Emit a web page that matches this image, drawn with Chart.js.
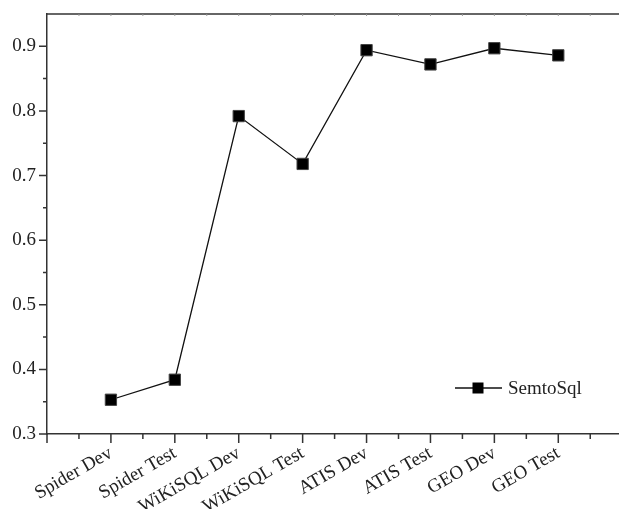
<!DOCTYPE html>
<html>
<head>
<meta charset="utf-8">
<script src="https://cdn.jsdelivr.net/npm/chart.js@4.4.0/dist/chart.umd.min.js"></script>
<style>
html,body{margin:0;padding:0;background:#fff;}
#wrap{width:619px;height:509px;}
</style>
</head>
<body>
<div id="wrap"><canvas id="c" width="619" height="509"></canvas></div>
<script>
const categories = ['Spider Dev','Spider Test','WiKiSQL Dev','WiKiSQL Test','ATIS Dev','ATIS Test','GEO Dev','GEO Test'];
const seriesName = 'SemtoSql';
const semtoSql = [0.353, 0.384, 0.792, 0.718, 0.894, 0.872, 0.897, 0.886];
const yTicks = [0.3, 0.4, 0.5, 0.6, 0.7, 0.8, 0.9];
const yMinorTicks = [0.35, 0.45, 0.55, 0.65, 0.75, 0.85];

const FONT = 'Liberation Serif';
const AXIS = '#333';

const points = semtoSql.map((v, i) => ({x: i + 1, y: v}));

const decor = {
  id: 'decor',
  afterDraw(chart) {
    const ctx = chart.ctx;
    const xs = chart.scales.x, ys = chart.scales.y;
    const a = chart.chartArea;
    ctx.save();
    ctx.strokeStyle = AXIS;
    ctx.lineWidth = 1.5;
    ctx.beginPath();
    ctx.moveTo(a.left, a.top);
    ctx.lineTo(a.right, a.top);
    ctx.stroke();
    ctx.beginPath();
    for (let v = 0; v <= 9; v += 0.5) {
      const px = xs.getPixelForValue(v);
      if (px > a.right + 1) continue;
      const len = Number.isInteger(v) ? 9 : 5;
      ctx.moveTo(px, a.bottom);
      ctx.lineTo(px, a.bottom + len);
    }
    yTicks.forEach(v => {
      const py = ys.getPixelForValue(v);
      ctx.moveTo(a.left, py);
      ctx.lineTo(a.left - 8, py);
    });
    yMinorTicks.forEach(v => {
      const py = ys.getPixelForValue(v);
      ctx.moveTo(a.left, py);
      ctx.lineTo(a.left - 4, py);
    });
    ctx.stroke();
    ctx.strokeStyle = '#999';
    ctx.lineWidth = 1;
    ctx.beginPath();
    for (let v = 0.5; v <= 9; v += 0.5) {
      const px = xs.getPixelForValue(v);
      if (px > a.right - 1) continue;
      ctx.moveTo(px, a.top);
      ctx.lineTo(px, a.top + 2);
    }
    ctx.stroke();
    const ly = 388, lx0 = 455, lx1 = 502;
    ctx.strokeStyle = '#111';
    ctx.lineWidth = 1.3;
    ctx.beginPath();
    ctx.moveTo(lx0, ly);
    ctx.lineTo(lx1, ly);
    ctx.stroke();
    ctx.fillStyle = '#000';
    ctx.fillRect(478 - 5.5, ly - 5.5, 11, 11);
    ctx.fillStyle = '#222';
    ctx.font = '19px "' + FONT + '"';
    ctx.textBaseline = 'middle';
    ctx.textAlign = 'left';
    ctx.fillText(seriesName, 508, ly + 1);
    ctx.restore();
  }
};

new Chart(document.getElementById('c'), {
  type: 'line',
  data: {
    datasets: [{
      label: seriesName,
      data: points,
      borderColor: '#111',
      borderWidth: 1.3,
      pointStyle: 'rect',
      pointRadius: 8,
      pointHoverRadius: 8,
      pointBackgroundColor: '#000',
      pointBorderColor: '#444',
      pointBorderWidth: 1,
      tension: 0,
      clip: false
    }]
  },
  options: {
    responsive: false,
    animation: false,
    events: [],
    layout: {autoPadding: false, padding: {top: 14, right: 0, left: 0, bottom: 0}},
    plugins: {legend: {display: false}, tooltip: {enabled: false}},
    scales: {
      x: {
        type: 'linear',
        min: 0,
        max: 8.95,
        afterBuildTicks: (s) => { s.ticks = [0,1,2,3,4,5,6,7,8].map(v => ({value: v})); },
        ticks: {
          callback: (v) => (v >= 1 && v <= categories.length) ? categories[v - 1] : '',
          minRotation: 30,
          maxRotation: 30,
          autoSkip: false,
          padding: 0,
          color: '#222',
          font: {family: FONT, size: 19}
        },
        grid: {display: true, drawOnChartArea: false, drawTicks: true, tickLength: 8, tickColor: 'rgba(0,0,0,0)'},
        border: {display: true, color: AXIS, width: 1.5},
        afterFit: (s) => { s.height = 75; s.paddingRight = 0; s.paddingLeft = 0; }
      },
      y: {
        min: 0.3,
        max: 0.95,
        afterBuildTicks: (s) => { s.ticks = yTicks.map(v => ({value: v})); },
        ticks: {
          callback: (v) => v.toFixed(1),
          padding: 0,
          color: '#222',
          font: {family: FONT, size: 19}
        },
        grid: {display: true, drawOnChartArea: false, drawTicks: true, tickLength: 11, tickColor: 'rgba(0,0,0,0)'},
        border: {display: true, color: AXIS, width: 1.5},
        afterFit: (s) => { s.width = 47; }
      }
    }
  },
  plugins: [decor]
});
</script>
</body>
</html>
